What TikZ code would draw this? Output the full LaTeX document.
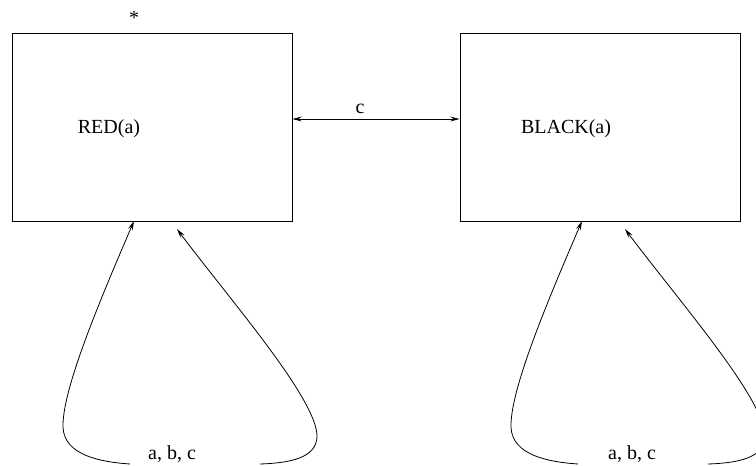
\documentclass[tikz,border=0pt]{standalone}
\usepackage{fontspec}
\setmainfont{Liberation Serif}
\usetikzlibrary{arrows.meta}
\begin{document}
\begin{tikzpicture}[x=0.75pt,y=-0.75pt,
  box/.style={draw,line width=0.6pt,minimum width=210pt,minimum height=141pt,inner sep=0pt},
  lbl/.style={font=\fontsize{15}{18}\selectfont,inner sep=0pt},
  conn/.style={line width=0.6pt,-{Stealth[length=7pt,width=3.6pt,inset=2.5pt]}},
  both/.style={line width=0.6pt,{Stealth[length=7pt,width=3.6pt,inset=2.5pt]}-{Stealth[length=7pt,width=3.6pt,inset=2.5pt]}}]
\useasboundingbox (0,0) rectangle (756,465);
\clip (0,0) rectangle (756,465);
\node[box] (red) at (152,127) {};
\node[box] (black) at (600,127) {};
\node[lbl] (redt) at (109,129) {RED(a)};
\node[lbl] (blackt) at (566,129) {BLACK(a)};
\node[lbl] (star) at (134,18) {*};
\node[lbl] (cl) at (360,109) {c};
\node[lbl] (l1) at (172,454) {a, b, c};
\node[lbl] (l2) at (632,454) {a, b, c};
\draw[both] (red.east |- 0,119) -- (black.west |- 0,119);
% left loop
\coordinate (a1) at (134,221);
\coordinate (a2) at (177,229);
\coordinate (a1s) at (130,464);
\coordinate (a2s) at (260,464);
\draw[conn] (a1s) .. controls (100,462) and (64,455) .. (63,427) .. controls (62,390) and (100,300) .. (a1);
\draw[conn] (a2s) .. controls (290,463) and (316,458) .. (317,437) .. controls (318,400) and (230,300) .. (a2);
% right loop
\coordinate (b1) at (582,221);
\coordinate (b2) at (625,229);
\coordinate (b1s) at (578,464);
\coordinate (b2s) at (708,464);
\draw[conn] (b1s) .. controls (548,462) and (512,455) .. (511,427) .. controls (510,390) and (548,300) .. (b1);
\draw[conn] (b2s) .. controls (738,463) and (764,458) .. (765,437) .. controls (766,400) and (678,300) .. (b2);
\end{tikzpicture}
\end{document}
